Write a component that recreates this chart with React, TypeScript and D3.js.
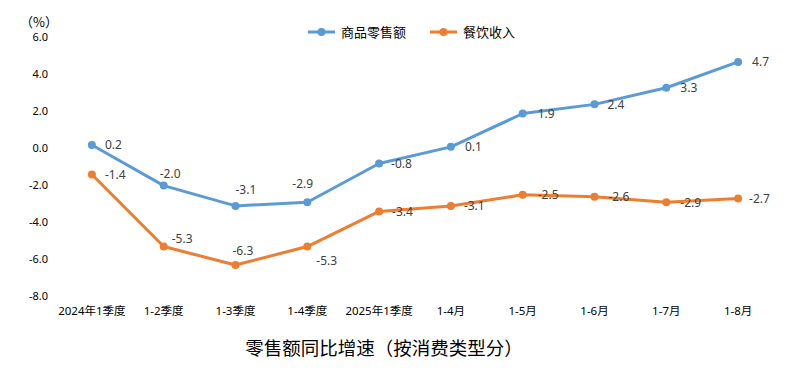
import React from "react";
import * as d3 from "d3";

const categories = ["2024年1季度", "1-2季度", "1-3季度", "1-4季度", "2025年1季度", "1-4月", "1-5月", "1-6月", "1-7月", "1-8月"];
const retailGoods = [0.2, -2.0, -3.1, -2.9, -0.8, 0.1, 1.9, 2.4, 3.3, 4.7];
const catering = [-1.4, -5.3, -6.3, -5.3, -3.4, -3.1, -2.5, -2.6, -2.9, -2.7];
const yTicks = [6, 4, 2, 0, -2, -4, -6, -8];
const seriesNames = ["商品零售额", "餐饮收入"];
const seriesColors = ["#5B9BD5", "#ED7D31"];
// label offsets (dx, dy) relative to each point
const goodsLabelOffsets: [number, number][] = [[13, 0], [-4, -12], [0, -16], [-15, -19], [12, 0], [14, 0], [15, 0], [13, 0], [14, 0], [14, 0]];
const cateringLabelOffsets: [number, number][] = [[13, 0], [8, -8], [-3, -15], [9, 14], [13, 0], [13, 0], [15, 0], [14, 0], [14, 0], [11, 0]];

const W = 795, H = 368;

export default function App() {
  const x = d3.scaleBand<string>().domain(categories).range([56, 774]);
  const y = d3.scaleLinear().domain([-8, 6]).range([296.4, 37.9]);
  const cx = (c: string) => (x(c) ?? 0) + x.bandwidth() / 2;
  const line = d3.line<number>().x((_, i) => cx(categories[i])).y((d) => y(d));
  const series = [
    { name: seriesNames[0], values: retailGoods, color: seriesColors[0], offs: goodsLabelOffsets },
    { name: seriesNames[1], values: catering, color: seriesColors[1], offs: cateringLabelOffsets },
  ];
  const sans = "'Noto Sans', 'Noto Sans CJK SC', sans-serif";
  return (
    <svg width={W} height={H} style={{ position: "absolute", left: 0, top: 0, background: "#fff" }}>
      <rect width={W} height={H} fill="#fff" />
      <text x={39} y={21} textAnchor="middle" dominantBaseline="central" fontSize={13} fontFamily="'Noto Sans CJK SC', sans-serif" fill="#000">（%）</text>
      {yTicks.map((t) => (
        <text key={t} x={48} y={y(t) - 1.2} textAnchor="end" dominantBaseline="central" fontSize={11} fontFamily={sans} fill="#000">
          {t.toFixed(1)}
        </text>
      ))}
      {categories.map((c) => (
        <text key={c} x={cx(c)} y={310} textAnchor="middle" dominantBaseline="central" fontSize={11.5} fontFamily={sans} fill="#000">
          {c}
        </text>
      ))}
      {series.map((s) => (
        <g key={s.name}>
          <path d={line(s.values) ?? ""} fill="none" stroke={s.color} strokeWidth={3} strokeLinejoin="round" />
          {s.values.map((v, i) => (
            <circle key={i} cx={cx(categories[i])} cy={y(v)} r={4} fill={s.color} />
          ))}
          {s.values.map((v, i) => (
            <text key={"l" + i} x={cx(categories[i]) + s.offs[i][0]} y={y(v) + s.offs[i][1]} textAnchor="start" dominantBaseline="central" fontSize={12} fontFamily={sans} fill="#404040">
              {v.toFixed(1)}
            </text>
          ))}
        </g>
      ))}
      {/* legend */}
      {series.map((s, i) => {
        const lx = i === 0 ? 308 : 430;
        return (
          <g key={"lg" + i}>
            <line x1={lx} x2={lx + 27} y1={32} y2={32} stroke={s.color} strokeWidth={3} />
            <circle cx={lx + 13.5} cy={32} r={4} fill={s.color} />
            <text x={lx + 33} y={32} dominantBaseline="central" fontSize={13} fontFamily={sans} fill="#000">{s.name}</text>
          </g>
        );
      })}
      <text x={384} y={347} textAnchor="middle" dominantBaseline="central" fontSize={18.5} fontFamily="'Noto Sans CJK SC', serif" fill="#000">
        零售额同比增速（按消费类型分）
      </text>
    </svg>
  );
}
